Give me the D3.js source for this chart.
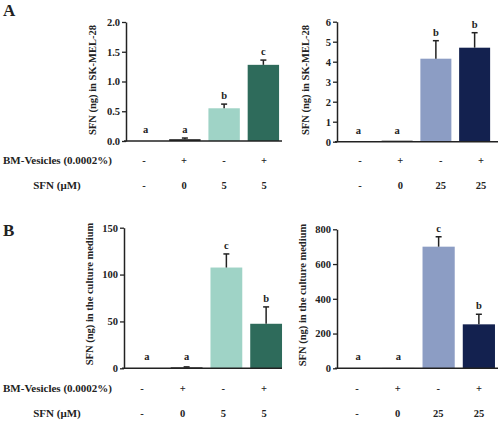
<!DOCTYPE html>
<html><head><meta charset="utf-8">
<script src="https://cdn.jsdelivr.net/npm/d3@7"></script>
<style>body{margin:0;background:#fff}svg{display:block}text{font-family:"Liberation Serif","DejaVu Serif",serif;font-weight:bold;fill:#222}</style>
</head><body><svg id="c" width="500" height="422"></svg>
<script>
const groups = ["g1","g2","g3","g4"];
const bmRow = ["-","+","-","+"];
const sfnLeft = ["-","0","5","5"];
const sfnRight = ["-","0","25","25"];

const aLeftVals = [0, 0.03, 0.55, 1.28];
const aLeftErr  = [0, 0.02, 0.07, 0.08];
const aLeftSig  = ["a","a","b","c"];
const aLeftTicks = [0, 0.5, 1.0, 1.5, 2.0];

const aRightVals = [0, 0.05, 4.15, 4.7];
const aRightErr  = [0, 0.0, 0.9, 0.75];
const aRightSig  = ["a","a","b","b"];
const aRightTicks = [0,1,2,3,4,5,6];

const bLeftVals = [0, 1, 107.5, 47.5];
const bLeftErr  = [0, 0.5, 14.5, 18];
const bLeftSig  = ["a","a","c","b"];
const bLeftTicks = [0,50,100,150];

const bRightVals = [0, 2, 700, 253];
const bRightErr  = [0, 0, 57, 58];
const bRightSig  = ["a","a","c","b"];
const bRightTicks = [0,200,400,600,800];

const greenCols = ["#1a1a1a","#1a1a1a","#9fd3c6","#2e6b5b"];
const blueCols  = ["#1a1a1a","#1a1a1a","#8c9dc4","#13214f"];

const svg = d3.select("#c");

function panel(o){
  const x = d3.scaleBand().domain(groups).range(o.xr).paddingInner(0.2).paddingOuter(0.1);
  const y = d3.scaleLinear().domain([0, o.ticks[o.ticks.length-1]]).range(o.yr);
  const g = svg.append("g");
  const ax = g.append("g").attr("transform",`translate(${o.ax},0)`)
    .call(d3.axisLeft(y).tickValues(o.ticks).tickSize(4).tickSizeOuter(0).tickFormat(o.fmt));
  ax.select(".domain").attr("stroke","#222").attr("stroke-width",1.5);
  ax.selectAll(".tick line").attr("stroke","#222").attr("stroke-width",1.3);
  ax.selectAll(".tick text").attr("font-size","10.5px").attr("fill","#222").style("font-family","Liberation Serif").attr("x",-6);
  g.selectAll("rect.bar").data(o.vals).join("rect")
    .attr("x",(d,i)=>x(groups[i])).attr("width",x.bandwidth())
    .attr("y",d=>y(d)).attr("height",d=>y(0)-y(d))
    .attr("fill",(d,i)=>o.cols[i]);
  const cap = 3;
  o.vals.forEach((v,i)=>{
    if(o.err[i]<=0) return;
    const cx = x(groups[i])+x.bandwidth()/2;
    g.append("line").attr("x1",cx).attr("x2",cx).attr("y1",y(v)).attr("y2",y(v+o.err[i])).attr("stroke","#222").attr("stroke-width",1.5);
    g.append("line").attr("x1",cx-cap).attr("x2",cx+cap).attr("y1",y(v+o.err[i])).attr("y2",y(v+o.err[i])).attr("stroke","#222").attr("stroke-width",1.5);
  });
  g.selectAll("text.sig").data(o.sig).join("text")
    .attr("x",(d,i)=>x(groups[i])+x.bandwidth()/2)
    .attr("y",(d,i)=>Math.min(y(o.vals[i]+o.err[i])-5, y(0)-8))
    .attr("text-anchor","middle").attr("font-size","10.5px").text(d=>d);
  g.append("line").attr("x1",o.ax-2).attr("x2",o.xEnd).attr("y1",y(0)).attr("y2",y(0)).attr("stroke","#222").attr("stroke-width",1.5);
  g.append("text").attr("transform",`translate(${o.tx},${o.ty}) rotate(-90)`)
    .attr("text-anchor","middle").attr("font-size","10.5px").text(o.title);
  const lx = d3.scalePoint().domain(groups).range(o.lr);
  g.selectAll("text.bm").data(bmRow).join("text")
    .attr("x",(d,i)=>lx(groups[i])).attr("y",o.row1).attr("text-anchor","middle").attr("font-size","10.5px").text(d=>d);
  g.selectAll("text.sfn").data(o.sfn).join("text")
    .attr("x",(d,i)=>lx(groups[i])).attr("y",o.row2).attr("text-anchor","middle").attr("font-size","10.5px").text(d=>d);
}

panel({xr:[126,283], ax:126, xEnd:282, yr:[141,22], ticks:aLeftTicks, fmt:d3.format(".1f"),
  vals:aLeftVals, err:aLeftErr, sig:aLeftSig, cols:greenCols, title:"SFN (ng) in SK-MEL-28", tx:96, ty:80,
  lr:[144,264], sfn:sfnLeft, row1:164, row2:189});
panel({xr:[339,494], ax:337, xEnd:498, yr:[141.7,21.7], ticks:aRightTicks, fmt:d3.format("d"),
  vals:aRightVals, err:aRightErr, sig:aRightSig, cols:blueCols, title:"SFN (ng) in SK-MEL-28", tx:309, ty:80,
  lr:[360,481], sfn:sfnRight, row1:164, row2:189});
panel({xr:[127,286], ax:124, xEnd:282, yr:[368.3,227.7], ticks:bLeftTicks, fmt:d3.format("d"),
  vals:bLeftVals, err:bLeftErr, sig:bLeftSig, cols:greenCols, title:"SFN (ng) in the culture medium", tx:93, ty:294,
  lr:[142,264], sfn:sfnLeft, row1:392, row2:417});
panel({xr:[338,499], ax:337, xEnd:498, yr:[368.3,229.3], ticks:bRightTicks, fmt:d3.format("d"),
  vals:bRightVals, err:bRightErr, sig:bRightSig, cols:blueCols, title:"SFN (ng) in the culture medium", tx:306, ty:295,
  lr:[357,479], sfn:sfnRight, row1:392, row2:417});

[[164,189],[392,417]].forEach(r=>{
  svg.append("text").attr("x",3).attr("y",r[0]).attr("font-size","11px").text("BM-Vesicles (0.0002%)");
  svg.append("text").attr("x",57).attr("y",r[1]).attr("text-anchor","middle").attr("font-size","11px").text("SFN (μM)");
});
svg.append("text").attr("x",3).attr("y",16).attr("font-size","17px").text("A");
svg.append("text").attr("x",3).attr("y",236).attr("font-size","17px").text("B");
</script></body></html>
